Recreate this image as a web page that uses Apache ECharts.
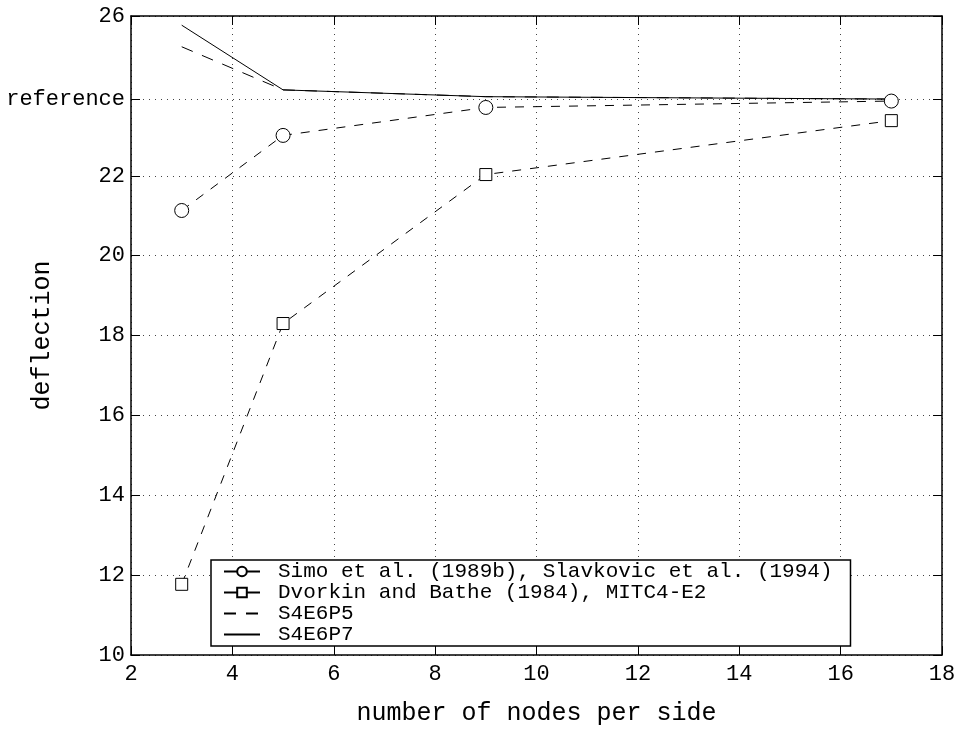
<!DOCTYPE html>
<html>
<head>
<meta charset="utf-8" />
<title>deflection vs number of nodes per side</title>
<script src="https://cdn.jsdelivr.net/npm/echarts@6/dist/echarts.min.js"></script>
<style>
  html, body { margin: 0; padding: 0; background: #fff; }
  #chart { width: 958px; height: 729px; }
</style>
</head>
<body>
<div id="chart"></div>
<script>
const nodes = [3, 5, 9, 17];
const simo = [21.13, 23.01, 23.71, 23.87];
const dvorkin = [11.77, 18.30, 22.03, 23.38];
const s4e6p5 = [25.23, 24.15, 23.98, 23.92];
const s4e6p7 = [25.77, 24.15, 23.98, 23.92];
const seriesNames = [
  'Simo et al. (1989b), Slavkovic et al. (1994)',
  'Dvorkin and Bathe (1984), MITC4-E2',
  'S4E6P5',
  'S4E6P7'
];
const refValue = 23.91;
const yTicks = [10, 12, 14, 16, 18, 20, 22, refValue, 26];
const xTicks = [2, 4, 6, 8, 10, 12, 14, 16, 18];

const font = '"Liberation Mono", "DejaVu Sans Mono", monospace';
const pairs = (ys) => nodes.map((x, i) => [x, ys[i]]);

const chart = echarts.init(document.getElementById('chart'));

const gridLine = { show: true, lineStyle: { color: '#444', type: [1, 5], width: 1 } };
const frameLine = { show: true, onZero: false, lineStyle: { color: '#000', width: 1.5 } };
const xTick = { show: true, inside: true, length: 9, customValues: xTicks, lineStyle: { color: '#000', width: 1 } };
const yTick = { show: true, inside: true, length: 9, customValues: yTicks, lineStyle: { color: '#000', width: 1 } };

chart.setOption({
  animation: false,
  backgroundColor: '#fff',
  grid: { left: 131, right: 16, top: 16, bottom: 74, containLabel: false, outerBoundsMode: 'none' },
  legend: {
    orient: 'vertical',
    left: 211,
    top: 560,
    backgroundColor: '#fff',
    borderColor: '#000',
    borderWidth: 1.5,
    padding: [1, 18, 1, 12],
    itemGap: 0,
    itemWidth: 36,
    itemHeight: 12,
    textStyle: { fontFamily: font, fontSize: 21, color: '#000', lineHeight: 21, padding: [0, 0, 0, 13] },
    data: [
      { name: seriesNames[0], lineStyle: { type: 'solid' } },
      { name: seriesNames[1], lineStyle: { type: 'solid' } },
      { name: seriesNames[2], itemStyle: { opacity: 0 } },
      { name: seriesNames[3], itemStyle: { opacity: 0 } }
    ]
  },
  xAxis: [
    {
      type: 'value', min: 2, max: 18, interval: 2,
      name: 'number of nodes per side', nameLocation: 'middle', nameGap: 46, nameMoveOverlap: false,
      nameTextStyle: { fontFamily: font, fontSize: 25, color: '#000' },
      axisLine: frameLine, axisTick: xTick,
      axisLabel: { fontFamily: font, fontSize: 22, color: '#000', margin: 8 },
      splitLine: gridLine
    },
    {
      type: 'value', position: 'top', min: 2, max: 18, interval: 2,
      axisLine: frameLine, axisTick: xTick, axisLabel: { show: false }, splitLine: { show: false }
    }
  ],
  yAxis: [
    {
      type: 'value', min: 10, max: 26, interval: 2,
      name: 'deflection', nameLocation: 'middle', nameGap: 76, nameRotate: 90, nameMoveOverlap: false,
      nameTextStyle: { fontFamily: font, fontSize: 25, color: '#000' },
      axisLine: frameLine, axisTick: yTick,
      axisLabel: {
        fontFamily: font, fontSize: 22, color: '#000', margin: 6,
        customValues: yTicks,
        formatter: (v) => (v === refValue ? 'reference' : String(v))
      },
      splitLine: gridLine
    },
    {
      type: 'value', position: 'right', min: 10, max: 26, interval: 2,
      axisLine: frameLine, axisTick: yTick, axisLabel: { show: false }, splitLine: { show: false }
    }
  ],
  series: [
    {
      name: seriesNames[0], type: 'line', data: pairs(simo),
      symbol: 'circle', symbolSize: 14,
      lineStyle: { color: '#000', width: 1, type: [9, 9] },
      itemStyle: { color: '#fff', borderColor: '#000', borderWidth: 1 }
    },
    {
      name: seriesNames[1], type: 'line', data: pairs(dvorkin),
      symbol: 'rect', symbolSize: 12,
      lineStyle: { color: '#000', width: 1, type: [9, 9] },
      itemStyle: { color: '#fff', borderColor: '#000', borderWidth: 1 }
    },
    {
      name: seriesNames[2], type: 'line', data: pairs(s4e6p5),
      symbol: 'none',
      lineStyle: { color: '#000', width: 1, type: [12, 10] },
      itemStyle: { color: '#000' }
    },
    {
      name: seriesNames[3], type: 'line', data: pairs(s4e6p7),
      symbol: 'none',
      lineStyle: { color: '#000', width: 1, type: 'solid' },
      itemStyle: { color: '#000' }
    }
  ]
});
</script>
</body>
</html>
